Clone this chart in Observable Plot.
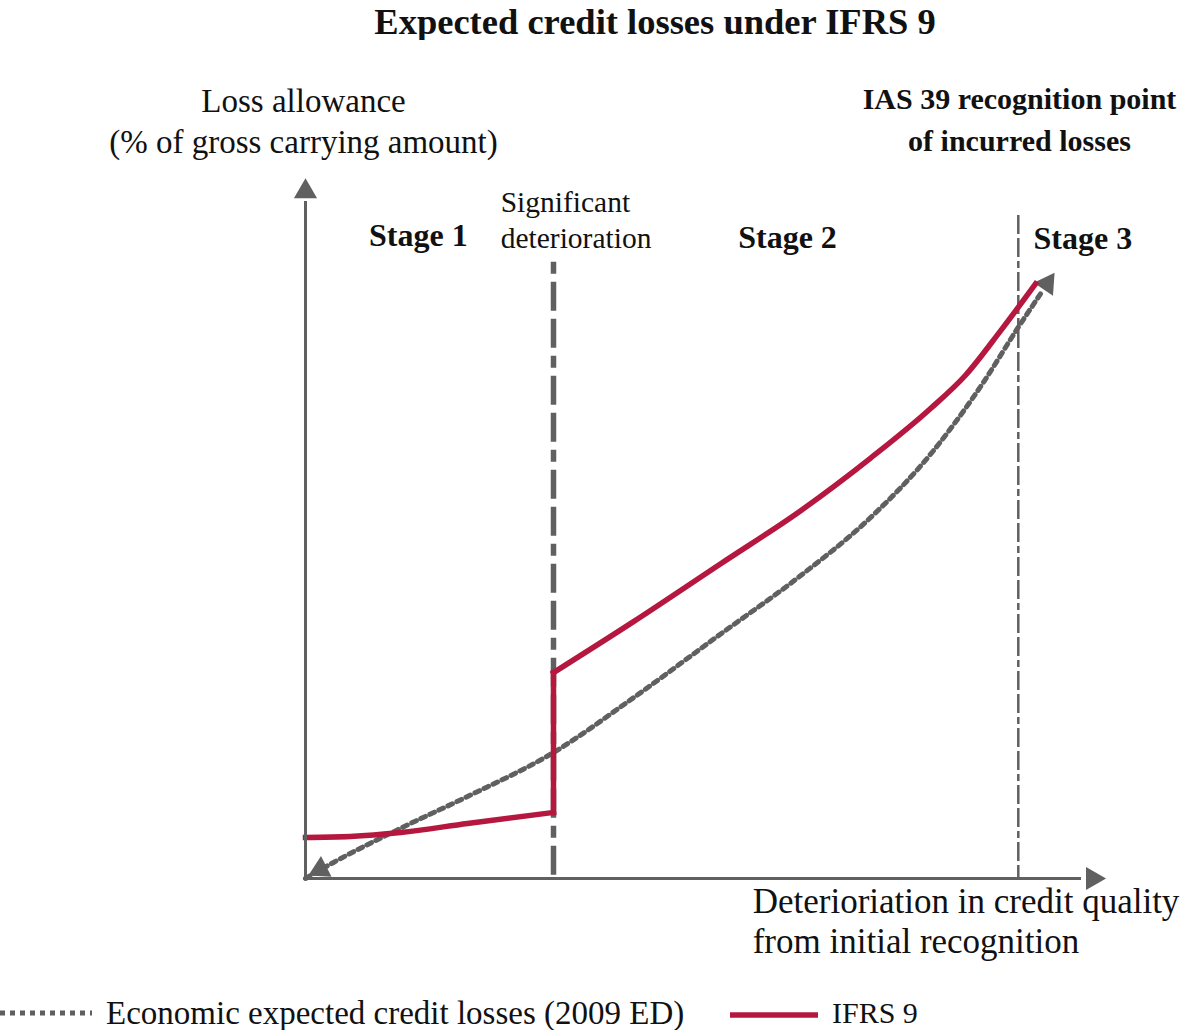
<!DOCTYPE html>
<html>
<head>
<meta charset="utf-8">
<script src="https://cdn.jsdelivr.net/npm/d3@7"></script>
<script src="https://cdn.jsdelivr.net/npm/@observablehq/plot@0.6"></script>
<style>
  body { margin: 0; background: #fff; font-family: "Liberation Serif", serif; color: #111; }
  #wrap { position: relative; width: 1183px; height: 1030px; overflow: hidden; }
  #title { position: absolute; top: 0; left: 0; width: 1183px; height: 44px; line-height: 44px;
           text-align: center; font-weight: bold; font-size: 36.5px; padding-left: 127px; box-sizing: border-box; }
  #chart { position: absolute; top: 40px; left: 0; }
  .leg { position: absolute; top: 993px; height: 40px; line-height: 40px; font-size: 33px; white-space: nowrap; }
  .sw { position: absolute; }
</style>
</head>
<body>
<div id="wrap">
  <div id="title">Expected credit losses under IFRS 9</div>
  <div id="chart"></div>
  <svg class="sw" style="left:0;top:1008px" width="92" height="10"><line x1="0" y1="5" x2="92" y2="5" stroke="#5f5f5f" stroke-width="5" stroke-dasharray="5,5"/></svg>
  <div class="leg" style="left:106px">Economic expected credit losses (2009 ED)</div>
  <svg class="sw" style="left:730px;top:1010px" width="88" height="10"><line x1="0" y1="5" x2="88" y2="5" stroke="#b5173f" stroke-width="5.5"/></svg>
  <div class="leg" style="left:832px;font-size:30px">IFRS 9</div>
</div>
<script>
// IFRS 9 loss allowance, stage 1 (12-month ECL)
const stage1X = [0, 5.6, 11.9, 20.25, 31];
const stage1Y = [5.87, 6.02, 6.59, 7.88, 9.46];
// IFRS 9 loss allowance, stage 2 (lifetime ECL)
const stage2X = [31, 41, 51.9, 61.9, 70.6, 78.1, 82.5, 86.9, 91.25];
const stage2Y = [29.5, 36.8, 45.1, 52.7, 60.2, 67.3, 72.1, 78.5, 85.2];
// Economic expected credit losses (2009 ED)
const econX = [0, 3.5, 11.9, 20.25, 31, 41, 51.5, 61.9, 70.25, 78.5, 84.75, 89, 91.9];
const econY = [0, 2.3, 7.2, 11.75, 18.05, 25.9, 34.7, 43.4, 51.3, 61.3, 71.1, 78.8, 83.8];
// thresholds
const significantX = 31;
const significantTop = 88.3;
const ias39X = 89.1;
const ias39Top = 95;

const stage1 = stage1X.map((x, i) => ({x, y: stage1Y[i]}));
const stage2 = stage2X.map((x, i) => ({x, y: stage2Y[i]}));
const jump = [stage1[stage1.length - 1], stage2[0]];
const econ = econX.map((x, i) => ({x, y: econY[i]}));

const RED = "#b5173f";
const GRAY = "#606060";
const font = "Liberation Serif";

const chart = Plot.plot({
  width: 1183,
  height: 950,
  marginTop: 140,
  marginBottom: 112,
  marginLeft: 305,
  marginRight: 78,
  style: {fontFamily: font, background: "white"},
  x: {domain: [0, 100], axis: null},
  y: {domain: [0, 100], axis: null},
  marks: [
    // vertical threshold lines
    Plot.ruleX([significantX], {y1: significantTop, y2: 0, stroke: GRAY, strokeWidth: 5.5, strokeDasharray: "12,8,29,8,29,8"}),
    Plot.ruleX([ias39X], {y1: ias39Top, y2: 0, stroke: GRAY, strokeWidth: 2.5, strokeDasharray: "19,4,19,4,7,4"}),
    // economic ECL dotted
    Plot.line(econ, {x: "x", y: "y", stroke: GRAY, strokeWidth: 5, strokeDasharray: "5,5", curve: "monotone-x"}),
    Plot.dot([{x: 1.85, y: 1.3, r: 243}, {x: 92.7, y: 85.2, r: 34}], {x: "x", y: "y", rotate: "r", symbol: "triangle", r: 8.6, fill: GRAY, stroke: "none"}),
    // IFRS 9
    Plot.line(stage1, {x: "x", y: "y", stroke: RED, strokeWidth: 5.5, curve: "monotone-x", strokeLinecap: "square"}),
    Plot.line(jump, {x: "x", y: "y", stroke: RED, strokeWidth: 5.5, strokeLinecap: "square"}),
    Plot.line(stage2, {x: "x", y: "y", stroke: RED, strokeWidth: 5.5, curve: "monotone-x", strokeLinecap: "square"}),
    // axes
    Plot.ruleX([0], {y1: 0, y2: 97, stroke: GRAY, strokeWidth: 3}),
    Plot.ruleY([0], {x1: -0.2, x2: 97, stroke: GRAY, strokeWidth: 3}),
    Plot.dot([{x: 0, y: 98.4, r: 0}, {x: 98.4, y: 0, r: 90}], {x: "x", y: "y", rotate: "r", symbol: "triangle", r: 8.6, fill: GRAY, stroke: "none"}),
    // labels
    Plot.text(["Loss allowance"], {x: -0.25, y: 111.3, fontSize: 33, fill: "#111", textAnchor: "middle"}),
    Plot.text(["(% of gross carrying amount)"], {x: -0.25, y: 105.4, fontSize: 33, fill: "#111", textAnchor: "middle"}),
    Plot.text(["IAS 39 recognition point"], {x: 89.25, y: 111.6, fontSize: 30, fontWeight: "bold", fill: "#111", textAnchor: "middle"}),
    Plot.text(["of incurred losses"], {x: 89.25, y: 105.6, fontSize: 30, fontWeight: "bold", fill: "#111", textAnchor: "middle"}),
    Plot.text(["Stage 1"], {x: 14.1, y: 92.1, fontSize: 32, fontWeight: "bold", fill: "#111", textAnchor: "middle"}),
    Plot.text(["Significant"], {x: 24.4, y: 96.8, fontSize: 29.5, fill: "#111", textAnchor: "start"}),
    Plot.text(["deterioration"], {x: 24.4, y: 91.7, fontSize: 29.5, fill: "#111", textAnchor: "start"}),
    Plot.text(["Stage 2"], {x: 60.25, y: 91.8, fontSize: 32, fontWeight: "bold", fill: "#111", textAnchor: "middle"}),
    Plot.text(["Stage 3"], {x: 91, y: 91.7, fontSize: 32, fontWeight: "bold", fill: "#111", textAnchor: "start"}),
    Plot.text(["Deterioriation in credit quality"], {x: 55.9, y: -3.3, fontSize: 35, fill: "#111", textAnchor: "start"}),
    Plot.text(["from initial recognition"], {x: 55.9, y: -9.0, fontSize: 35, fill: "#111", textAnchor: "start"})
  ]
});
document.getElementById("chart").appendChild(chart);
</script>
</body>
</html>
